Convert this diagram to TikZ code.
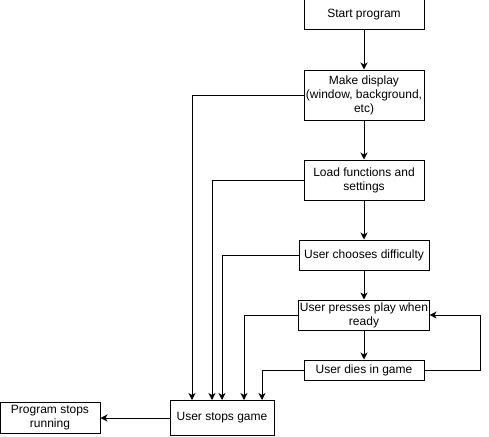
\documentclass[tikz,border=0pt]{standalone}
\usepackage{fontspec}
\setmainfont{Liberation Sans}
\usetikzlibrary{arrows.meta}
\tikzset{
  box/.style={draw=black, line width=1pt, fill=white, align=center, inner sep=1pt,
    font=\fontsize{12}{14}\selectfont},
  arr/.style={draw=black, line width=1pt, -{Stealth[length=7pt,width=7pt,inset=2pt]}},
}
\begin{document}
\begin{tikzpicture}[x=1pt,y=-1pt]
\useasboundingbox (0,0) rectangle (489,436);
\node[box, minimum width=120pt, minimum height=30pt] (start) at (364,15) {Start program};
\node[box, minimum width=120pt, minimum height=50pt] (make) at (364,95) {Make display\\(window, background,\\etc)};
\node[box, minimum width=120pt, minimum height=40pt] (load) at (364,180) {Load functions and\\settings};
\node[box, minimum width=130pt, minimum height=30pt] (choose) at (364,255) {User chooses difficulty};
\node[box, minimum width=130pt, minimum height=30pt] (press) at (364,315) {User presses play when\\ready};
\node[box, minimum width=120pt, minimum height=20pt] (dies) at (364,370) {User dies in game};
\node[box, minimum width=104pt, minimum height=35pt] (stops) at (222,418) {User stops game};
\node[box, minimum width=100pt, minimum height=31pt] (prog) at (50,418) {Program stops\\running};

\draw[arr] (start) -- (make);
\draw[arr] (make) -- (load);
\draw[arr] (load) -- (choose);
\draw[arr] (choose) -- (press);
\draw[arr] (press) -- (dies);
\draw[arr] (dies.east) -- ++(56,0) |- (press.east);

\draw[arr] (make.west) -| ([xshift=-30pt]stops.north);
\draw[arr] (load.west) -| ([xshift=-10pt]stops.north);
\draw[arr] (choose.west) -| (stops.north);
\draw[arr] (press.west) -| ([xshift=22pt]stops.north);
\draw[arr] (dies.west) -| ([xshift=40pt]stops.north);
\draw[arr] (stops.west) -- (prog.east);
\end{tikzpicture}
\end{document}
